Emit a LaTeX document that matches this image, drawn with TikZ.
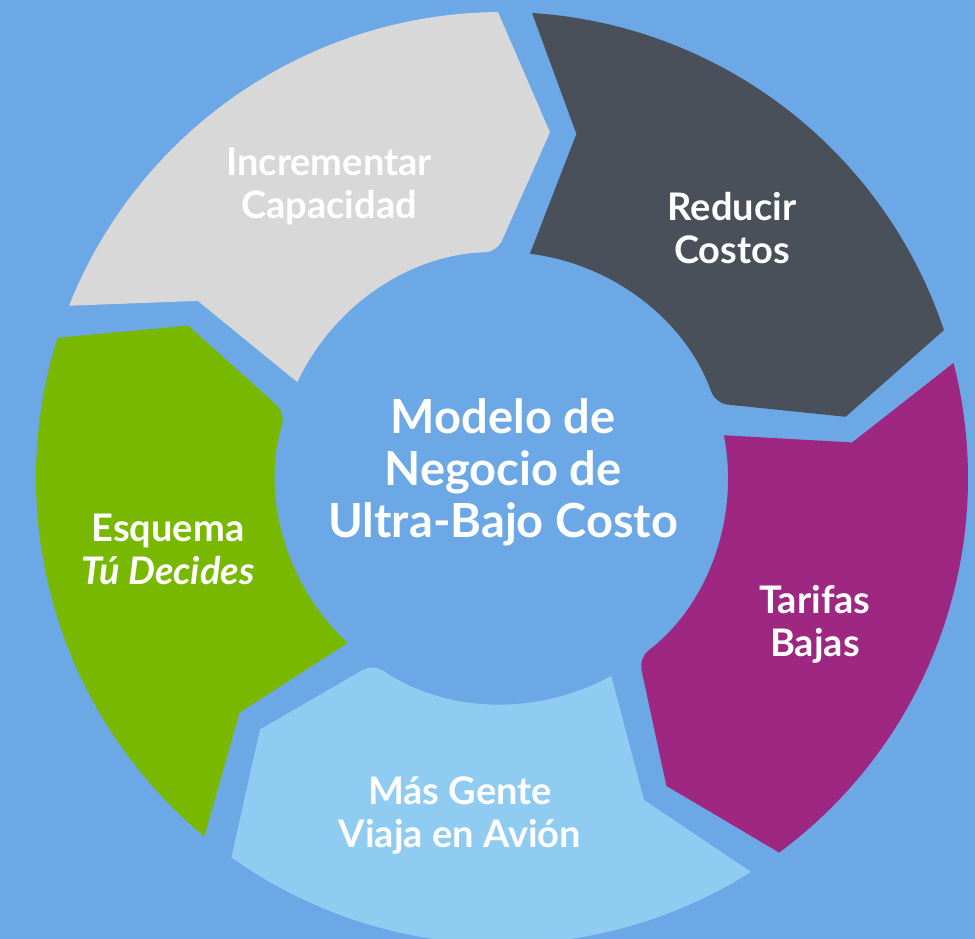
\documentclass[tikz,border=0pt]{standalone}
\usepackage{fontspec}
\setmainfont{Lato}
\definecolor{bgColor}{HTML}{6CA8E5}
\definecolor{segGray}{HTML}{D8D8D8}
\definecolor{segDark}{HTML}{4A5059}
\definecolor{segPurple}{HTML}{9E2782}
\definecolor{segSky}{HTML}{90CBF1}
\definecolor{segGreen}{HTML}{78B800}

\begin{document}
\begin{tikzpicture}[
    x=1pt, y=1pt,
    % Ring Styles
    segment/.style={
        draw=none
    },
    % Text Styles
    segLabel/.style={
        text=white,
        align=center,
        font=\fontsize{38}{43}\selectfont\bfseries
    },
    hubLabel/.style={
        text=white,
        align=center,
        font=\fontsize{47}{52}\selectfont\bfseries
    }
]

    % --- FRAME ---
    \useasboundingbox (-502,-461) rectangle (473,478);
    \fill[bgColor] (-502,-461) rectangle (473,478);

    % --- RING SEGMENTS (clockwise, tip at the end, notch at the start) ---
    % Incrementar Capacidad
    \fill[segment, segGray] (158.3:466) arc[start angle=158.3, end angle=90.5, radius=466]
        -- (82.1:349) [rounded corners=12pt] -- (91.3:226) [sharp corners]
        arc[start angle=91.3, end angle=154.9, radius=226]
        -- (149.8:352) [rounded corners=22pt] -- (158.3:466);

    % Reducir Costos
    \fill[segment, segDark] (86.3:466) arc[start angle=86.3, end angle=18.5, radius=466]
        -- (10.1:349) [rounded corners=12pt] -- (19.3:226) [sharp corners]
        arc[start angle=19.3, end angle=82.9, radius=226]
        -- (77.8:352) [rounded corners=22pt] -- (86.3:466);

    % Tarifas Bajas
    \fill[segment, segPurple] (14.3:466) arc[start angle=14.3, end angle=-53.5, radius=466]
        -- (-61.9:349) [rounded corners=12pt] -- (-52.7:226) [sharp corners]
        arc[start angle=-52.7, end angle=10.9, radius=226]
        -- (5.8:352) [rounded corners=22pt] -- (14.3:466);

    % Mas Gente Viaja en Avion
    \fill[segment, segSky] (-57.7:466) arc[start angle=-57.7, end angle=-125.5, radius=466]
        -- (-133.9:349) [rounded corners=12pt] -- (-124.7:226) [sharp corners]
        arc[start angle=-124.7, end angle=-61.1, radius=226]
        -- (-66.2:352) [rounded corners=22pt] -- (-57.7:466);

    % Esquema Tu Decides
    \fill[segment, segGreen] (230.3:466) arc[start angle=230.3, end angle=162.5, radius=466]
        -- (154.1:349) [rounded corners=12pt] -- (163.3:226) [sharp corners]
        arc[start angle=163.3, end angle=226.9, radius=226]
        -- (221.8:352) [rounded corners=22pt] -- (230.3:466);

    % --- LABELS ---
    \node[hubLabel] (hub) at (1,6) {Modelo de\\Negocio de\\Ultra-Bajo Costo};

    \node[segLabel] (capacidad) at (-173,292) {Incrementar\\Capacidad};
    \node[segLabel] (costos) at (230,250) {Reducir\\Costos};
    \node[segLabel] (tarifas) at (313,-146) {Tarifas\\Bajas};
    \node[segLabel] (gente) at (-42,-338) {Más Gente\\Viaja en Avión};
    \node[segLabel] (decides) at (-334,-71) {Esquema\\\textit{Tú Decides}};

\end{tikzpicture}
\end{document}
